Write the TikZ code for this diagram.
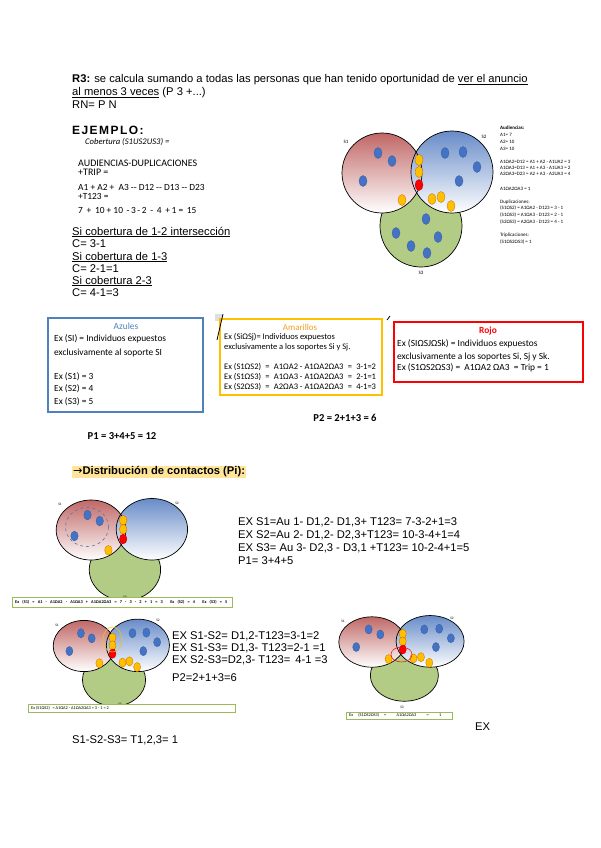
\documentclass[tikz,border=0pt]{standalone}
\usepackage{fontspec}
\setmainfont{Liberation Sans}
\newfontfamily\calib{Carlito}
\newfontfamily\symb{DejaVu Sans}
\usetikzlibrary{positioning}

\definecolor{vred}{RGB}{192,104,102}
\definecolor{vblue}{RGB}{104,140,200}
\definecolor{vgreen}{RGB}{178,204,134}
\definecolor{dotblue}{RGB}{68,114,196}
\definecolor{dotyel}{RGB}{255,192,0}
\definecolor{boxblue}{RGB}{79,129,189}
\definecolor{boxyel}{RGB}{255,192,0}
\definecolor{hlorange}{RGB}{255,229,153}
\definecolor{barline}{RGB}{155,187,89}
\definecolor{amar}{RGB}{240,160,30}

\tikzset{
  txt/.style={anchor=west, inner sep=0pt, font=\fontsize{11.2}{13}\selectfont},
  boxtxt/.style={anchor=west, inner sep=0pt, font=\calib\fontsize{9.4}{11}\selectfont},
  smalltxt/.style={anchor=west, inner sep=0pt, font=\calib\fontsize{8.5}{9.5}\selectfont},
  tinytxt/.style={anchor=west, inner sep=0pt, font=\calib\fontsize{5}{6}\selectfont},
  setlabel/.style={inner sep=0pt, font=\calib\fontsize{5}{6}\selectfont},
  bdot/.style={fill=dotblue, draw=dotblue!80!black, line width=0.3pt},
  ydot/.style={fill=dotyel, draw=orange!80!black, line width=0.3pt},
  rdot/.style={fill=red, draw=red!70!black, line width=0.3pt},
  ring/.style={draw=black, line width=0.7pt},
  bar/.style={draw=barline, line width=0.8pt, fill=white},
}

% the three supports
\newcommand{\vennbase}{%
  \path[fill=vgreen] (39,53) circle[radius=41];
  \draw[ring] (39,53) circle[radius=41];
  \shade[top color=vred, bottom color=white] (0,0) circle[radius=40];
  \shade[top color=vblue, bottom color=white] (70,-1) circle[radius=41];
  \draw[ring] (0,0) circle[radius=40];
  \draw[ring] (70,-1) circle[radius=41];}
% dots of S1 and the centre
\newcommand{\dotsone}{%
  \foreach \p in {(-4,-20),(10,-12),(-19,8)}
    \path[bdot] \p ellipse[x radius=\drx, y radius=\dry];
  \foreach \p in {(37,-13),(37,-1),(20,27)}
    \path[ydot] \p ellipse[x radius=\drx, y radius=\dry];
  \path[rdot] (37,12) ellipse[x radius=\drx, y radius=\dry];}
% dots of S2
\newcommand{\dotstwo}{%
  \foreach \p in {(63,-20),(81,-21),(95,-6),(77,8)}
    \path[bdot] \p ellipse[x radius=\drx, y radius=\dry];
  \foreach \p in {(50,26),(59,24),(69,33)}
    \path[ydot] \p ellipse[x radius=\drx, y radius=\dry];}
% dots of S3
\newcommand{\dotsthree}{%
  \foreach \p in {(44,46),(14,60),(29,73),(45,80),(56,64)}
    \path[bdot] \p ellipse[x radius=\drx, y radius=\dry];}

\begin{document}
\begin{tikzpicture}[x=1pt, y=-1pt]
\useasboundingbox[fill=white] (0,0) rectangle (600,848);

% R3 text
\node[txt] (r3a) at (72,80) {\textbf{R3:} se calcula sumando a todas las personas que han tenido oportunidad de \underline{ver el anuncio}};
\node[txt] (r3b) at (72,93) {\underline{al menos 3 veces} (P 3 +...)};
\node[txt] (rn) at (72,105) {RN= P N};

% ejemplo
\node[txt, font=\bfseries\fontsize{12}{14}\selectfont\addfontfeature{LetterSpace=12}] (ej) at (72,130) {EJEMPLO:};
\node[boxtxt, font=\calib\itshape\fontsize{8.6}{10}\selectfont] (cob) at (85,142) {Cobertura (S1US2US3) =};
\node[boxtxt, font=\calib\fontsize{10}{12}\selectfont] (aud) at (78,163) {AUDIENCIAS-DUPLICACIONES};
\node[boxtxt, font=\calib\fontsize{10}{12}\selectfont] (trip) at (78,172) {+TRIP =};
\node[boxtxt] (suma) at (78,187) {A1 + A2 + \ A3 -- D12 -- D13 -- D23};
\node[boxtxt] (t123) at (78,196) {+T123 =};
\node[boxtxt] (nums) at (78,210) {7 \,+\, 10 + 10 \,-\,3\,-\,2 \,-\, 4 \,+\,1 = \,15};
\node[txt] (c12) at (72,232) {\underline{Si cobertura de 1-2 intersección}};
\node[txt] (c12v) at (72,244) {C= 3-1};
\node[txt] (c13) at (72,257) {\underline{Si cobertura de 1-3}};
\node[txt] (c13v) at (72,269) {C= 2-1=1};
\node[txt] (c23) at (72,281) {\underline{Si cobertura 2-3}};
\node[txt] (c23v) at (72,293) {C= 4-1=3};

% main diagram
\begin{scope}[shift={(382,173)}]
  \def\drx{4}\def\dry{5.5}
  \vennbase \dotsone \dotstwo \dotsthree
\end{scope}
\node[setlabel] (ms1) at (346,142) {S1};
\node[setlabel] (ms2) at (484,137) {S2};
\node[setlabel] (ms3) at (421,273) {S3};

% side notes
\node[tinytxt] (n1) at (500,128) {\bfseries Audiencias:};
\node[tinytxt] (n2) at (500,135) {A1= 7};
\node[tinytxt] (n3) at (500,142) {A2= 10};
\node[tinytxt] (n4) at (500,149) {A3= 10};
\node[tinytxt] (n5) at (500,162) {A1ΩA2=D12 = A1 + A2 - A1UA2 = 3};
\node[tinytxt] (n6) at (500,168) {A1ΩA3=D13 = A1 + A3 - A1UA3 = 2};
\node[tinytxt] (n7) at (500,174) {A2ΩA3=D23 = A2 + A3 - A2UA3 = 4};
\node[tinytxt] (n8) at (500,189) {A1ΩA2ΩA3 = 1};
\node[tinytxt] (n9) at (500,202) {Duplicaciones:};
\node[tinytxt] (n10) at (500,208) {(S1ΩS2) = A1ΩA2 - D123 = 3 - 1};
\node[tinytxt] (n11) at (500,215) {(S1ΩS3) = A1ΩA3 - D123 = 2 - 1};
\node[tinytxt] (n12) at (500,222) {(S2ΩS3) = A2ΩA3 - D123 = 4 - 1};
\node[tinytxt] (n13) at (500,235) {Triplicaciones:};
\node[tinytxt] (n14) at (500,242) {(S1ΩS2ΩS3) = 1};

% azules
\draw[boxblue, line width=1.2pt] (48,318) rectangle (203,412);
\node[boxtxt, anchor=center, text=boxblue] (az) at (126,326) {Azules};
\node[boxtxt] (az1) at (54,339) {Ex (SI) = Individuos expuestos};
\node[boxtxt] (az2) at (54,353) {exclusivamente al soporte SI};
\node[boxtxt] (az3) at (54,377) {Ex (S1) = 3};
\node[boxtxt] (az4) at (54,389) {Ex (S2) = 4};
\node[boxtxt] (az5) at (54,402) {Ex (S3) = 5};
\node[font=\calib\bfseries\fontsize{10.6}{12}\selectfont, inner sep=0pt] (p1) at (122,436) {P1 = 3+4+5 = 12};

% amarillos
\fill[gray!25] (215,314) rectangle (222,321);
\draw[boxyel, line width=1.5pt] (220,319) rectangle (382,395);
\draw[line width=0.8pt] (223,314) -- (217,340);
\node[smalltxt, anchor=center, text=amar, font=\calib\fontsize{9}{10}\selectfont] (am) at (300,327) {Amarillos};
\node[smalltxt] (am1) at (224,337) {Ex (SiΩSj)= Individuos expuestos};
\node[smalltxt] (am2) at (224,347) {exclusivamente a los soportes Si y Sj.};
\node[smalltxt] (am3) at (224,367) {Ex (S1ΩS2) \;=\; A1ΩA2 - A1ΩA2ΩA3 \;=\; 3-1=2};
\node[smalltxt] (am4) at (224,377) {Ex (S1ΩS3) \;=\; A1ΩA3 - A1ΩA2ΩA3 \;=\; 2-1=1};
\node[smalltxt] (am5) at (224,387) {Ex (S2ΩS3) \;=\; A2ΩA3 - A1ΩA2ΩA3 \;=\; 4-1=3};
\node[font=\calib\bfseries\fontsize{10.6}{12}\selectfont, inner sep=0pt] (p2) at (345,418) {P2 = 2+1+3 = 6};

% rojo
\draw[line width=0.8pt] (387,320) -- (390,316);
\draw[red, line width=2pt] (394,322) rectangle (583,382);
\node[boxtxt, anchor=center, text=red, font=\calib\bfseries\fontsize{9.4}{11}\selectfont] (ro) at (488,331) {Rojo};
\node[boxtxt] (ro1) at (397,344) {Ex (SIΩSJΩSk) = Individuos expuestos};
\node[boxtxt] (ro2) at (397,357) {exclusivamente a los soportes Si, Sj y Sk.};
\node[boxtxt] (ro3) at (397,368) {Ex (S1ΩS2ΩS3) = \ A1ΩA2 ΩA3 \ = Trip = 1};

% distribucion
\node[txt, fill=hlorange, inner sep=1pt, font=\bfseries\fontsize{11.2}{13}\selectfont] (dist) at (72,472) {{\symb\mdseries →}Distribución de contactos (Pi):};

% P1 diagram
\begin{scope}[shift={(91,530)}, xscale=0.87, yscale=0.75]
  \def\drx{4.3}\def\dry{6.5}
  \vennbase \dotsone
\end{scope}
\draw[dashed, draw=dotblue!70!gray, line width=0.6pt] (87,527) ellipse[x radius=21.5, y radius=19.5];
\node[setlabel, font=\calib\fontsize{3.5}{4}\selectfont] (a1) at (60,504) {S1};
\node[setlabel, font=\calib\fontsize{3.5}{4}\selectfont] (a2) at (177,503) {S2};
\node[setlabel, font=\calib\fontsize{3.5}{4}\selectfont] (a3) at (125,597) {S3};
\draw[bar] (12,597) rectangle (232,607);
\node[tinytxt, font=\calib\bfseries\fontsize{4.3}{5}\selectfont] (bar1) at (15,602) {\makebox[212pt][s]{Ex (S1) = A1 - A1ΩA2 - A1ΩA3 + A1ΩA2ΩA3 = 7 - 3 - 2 + 1 = 3 \quad Ex (S2) = 4 \quad Ex (S3) = 5}};

\node[txt] (e1) at (238,522) {EX S1=Au 1- D1,2- D1,3+ T123= 7-3-2+1=3};
\node[txt] (e2) at (238,535) {EX S2=Au 2- D1,2- D2,3+T123= 10-3-4+1=4};
\node[txt] (e3) at (238,548) {EX S3= Au 3- D2,3 - D3,1 +T123= 10-2-4+1=5};
\node[txt] (e4) at (238,561) {P1= 3+4+5};

% P2 diagram
\begin{scope}[shift={(84,646)}, xscale=0.77, yscale=0.64]
  \def\drx{4.6}\def\dry{7.2}
  \vennbase \dotsone \dotstwo
\end{scope}
\draw[dotyel, line width=0.5pt] (112.5,639.5) ellipse[x radius=9.5, y radius=12.5];
\node[setlabel, font=\calib\fontsize{3.5}{4}\selectfont] (b1) at (57,625) {S1};
\node[setlabel, font=\calib\fontsize{3.5}{4}\selectfont] (b2) at (158,620) {S2};
\node[setlabel, font=\calib\fontsize{3.5}{4}\selectfont] (b3) at (120,704) {S3};
\draw[bar] (28,704) rectangle (235,712);
\node[tinytxt, font=\calib\fontsize{4.3}{5}\selectfont] (bar2) at (31,708) {Ex (S1ΩS2) \, = A1ΩA2 - A1ΩA2ΩA3 = 3 - 1 = 2};

\node[txt] (f1) at (172,636) {EX S1-S2= D1,2-T123=3-1=2};
\node[txt] (f2) at (172,648) {EX S1-S3= D1,3- T123=2-1 =1};
\node[txt] (f3) at (172,660) {EX S2-S3=D2,3- T123= \,4-1 =3};
\node[txt] (f4) at (172,678) {P2=2+1+3=6};

% P3 diagram
\begin{scope}[shift={(372,642)}, xscale=0.83, yscale=0.63]
  \def\drx{4.3}\def\dry{7.2}
  \vennbase \dotsone \dotstwo
\end{scope}
\draw[red, line width=0.5pt] (401.5,654.5) ellipse[x radius=10.5, y radius=7.5];
\node[setlabel, font=\calib\fontsize{3.5}{4}\selectfont] (c1) at (343,621) {S1};
\node[setlabel, font=\calib\fontsize{3.5}{4}\selectfont] (c2) at (452,618) {S2};
\node[setlabel, font=\calib\fontsize{3.5}{4}\selectfont] (c3) at (402,707) {S3};
\draw[bar] (346,712) rectangle (452,719);
\node[tinytxt, font=\calib\fontsize{4.3}{5}\selectfont] (bar3) at (349,715.5) {\makebox[92pt][s]{Ex (S1ΩS2ΩS3) = \ A1ΩA2ΩA3 \ = \ 1}};
\node[txt] (ex) at (475,727) {EX};

\node[txt] (s123) at (72,740) {S1-S2-S3= T1,2,3= 1};
\end{tikzpicture}
\end{document}
